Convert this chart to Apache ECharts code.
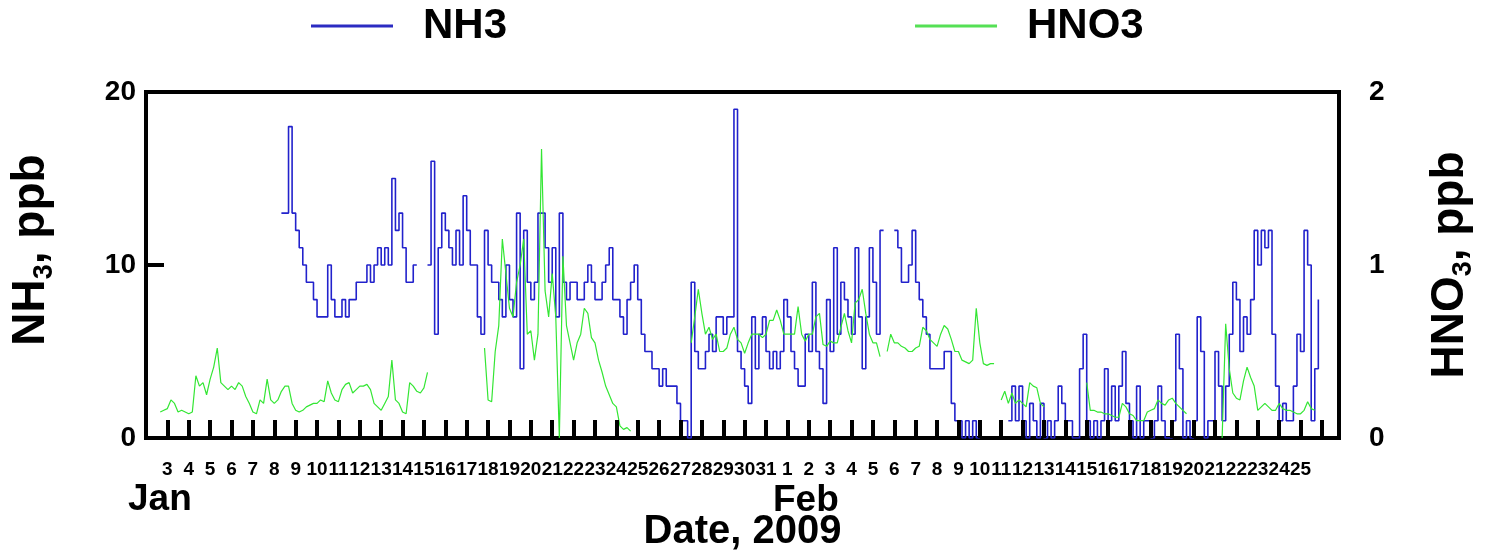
<!DOCTYPE html>
<html>
<head>
<meta charset="utf-8">
<script src="https://cdn.jsdelivr.net/npm/echarts@6/dist/echarts.min.js"></script>
<style>
html,body{margin:0;padding:0;background:#fff;}
#chart{width:1489px;height:557px;}
</style>
</head>
<body>
<div id="chart"></div>
<script>
// x = days after Jan 3 2009 (Jan 3 = 0); 6 readings per day (every 4 h)
const stepsPerDay = 6;
const tickLabels = ['3','4','5','6','7','8','9','10','11','12','13','14','15','16','17','18','19','20','21','22','23','24','25','26','27','28','29','30','31',
  '1','2','3','4','5','6','7','8','9','10','11','12','13','14','15','16','17','18','19','20','21','22','23','24','25'];
const monthLabels = ['Jan','Feb'];

// NH3 (ppb), first reading day = Jan 8
const nh3StartDay = 5;
const nh3 = [
  null,null,13,13,18,13,   // Jan 8
  12,11,10,9,9,8,          // Jan 9
  7,7,7,10,8,7,            // Jan 10
  7,8,7,8,8,9,             // Jan 11
  9,9,10,9,10,11,          // Jan 12
  10,11,10,15,12,13,       // Jan 13
  11,9,9,10,null,null,     // Jan 14
  null,10,16,6,11,13,      // Jan 15
  12,11,10,12,10,14,       // Jan 16
  12,10,10,7,6,12,         // Jan 17
  10,9,9,8,7,10,           // Jan 18
  8,7,13,4,12,9,           // Jan 19
  8,9,13,13,11,9,          // Jan 20
  11,7,13,9,8,9,           // Jan 21
  9,8,8,9,10,9,            // Jan 22
  8,8,9,10,11,8,           // Jan 23
  8,7,6,8,9,10,            // Jan 24
  8,6,5,5,4,4,             // Jan 25
  3,4,3,3,3,2,             // Jan 26
  1,1,0,9,5,4,             // Jan 27
  4,5,6,5,7,7,             // Jan 28
  6,7,7,19,5,4,            // Jan 29
  3,2,7,4,6,7,             // Jan 30
  5,4,5,4,5,8,             // Jan 31
  7,5,4,3,3,6,             // Feb 1
  5,9,5,4,2,8,             // Feb 2
  5,11,6,9,8,7,            // Feb 3
  6,11,7,4,7,11,           // Feb 4
  9,6,12,null,null,null,   // Feb 5
  12,11,9,9,10,12,         // Feb 6
  9,8,7,6,4,4,             // Feb 7
  4,4,5,5,2,1,             // Feb 8
  1,0,1,0,1,0,             // Feb 9
  null,null,null,null,null,null, // Feb 10
  null,null,1,3,1,3,       // Feb 11
  1,0,2,1,0,2,             // Feb 12
  0,1,0,1,3,2,             // Feb 13
  1,1,0,0,4,6,             // Feb 14
  1,0,1,0,1,4,             // Feb 15
  1,3,1,3,5,2,             // Feb 16
  1,0,3,0,1,1,             // Feb 17
  0,1,3,1,0,0,             // Feb 18
  1,6,4,0,1,0,             // Feb 19
  1,7,5,0,1,1,             // Feb 20
  5,3,1,3,6,9,             // Feb 21
  8,5,7,6,8,12,            // Feb 22
  10,12,11,12,6,3,         // Feb 23
  1,2,1,1,3,6,             // Feb 24
  5,12,10,1,4,8            // Feb 25
];

// HNO3 (ppb), first reading day = Jan 2
const hno3StartDay = -1;
const hno3 = [
  null,null,null,null,0.15,0.16,      // Jan 2
  0.17,0.22,0.20,0.15,0.16,0.15,      // Jan 3
  0.14,0.15,0.36,0.30,0.32,0.25,      // Jan 4
  0.34,0.41,0.52,0.32,0.30,0.28,      // Jan 5
  0.30,0.28,0.32,0.30,0.24,0.20,      // Jan 6
  0.15,0.14,0.22,0.20,0.34,0.22,      // Jan 7
  0.20,0.22,0.27,0.30,0.30,0.20,      // Jan 8
  0.16,0.15,0.16,0.18,0.19,0.20,      // Jan 9
  0.20,0.22,0.21,0.33,0.26,0.22,      // Jan 10
  0.21,0.28,0.31,0.32,0.26,0.28,      // Jan 11
  0.30,0.30,0.31,0.28,0.20,0.18,      // Jan 12
  0.16,0.20,0.24,0.45,0.22,0.20,      // Jan 13
  0.15,0.14,0.32,0.30,0.27,0.26,      // Jan 14
  0.29,0.38,null,null,null,null,      // Jan 15
  null,null,null,null,null,null,      // Jan 16
  null,null,null,null,null,0.52,      // Jan 17
  0.22,0.21,0.50,0.65,1.15,0.95,      // Jan 18
  0.75,0.70,0.90,1.00,1.15,0.60,      // Jan 19
  0.62,0.45,0.60,1.67,0.85,0.70,      // Jan 20
  0.95,0.70,0.00,1.05,0.65,0.55,      // Jan 21
  0.45,0.55,0.60,0.75,0.72,0.58,      // Jan 22
  0.55,0.45,0.38,0.30,0.25,0.20,      // Jan 23
  0.18,0.07,0.05,0.06,0.04,null,      // Jan 24
  null,null,null,null,null,null,      // Jan 25
  null,null,null,null,null,null,      // Jan 26
  null,null,null,0.55,0.70,0.86,      // Jan 27
  0.72,0.60,0.64,0.57,0.60,0.50,      // Jan 28
  0.50,0.52,0.60,0.64,0.57,0.55,      // Jan 29
  0.49,0.55,0.60,0.60,0.60,0.58,      // Jan 30
  0.60,0.68,0.68,0.74,0.68,0.60,      // Jan 31
  0.60,0.60,0.60,0.76,0.60,0.56,      // Feb 1
  0.60,0.60,0.70,0.72,0.54,0.53,      // Feb 2
  0.56,0.55,0.55,0.64,0.72,0.62,      // Feb 3
  0.55,0.78,0.80,0.86,0.72,0.60,      // Feb 4
  0.55,0.55,0.47,null,0.50,0.60,      // Feb 5
  0.55,0.55,0.53,0.52,0.50,0.50,      // Feb 6
  0.52,0.53,0.64,0.62,0.57,0.55,      // Feb 7
  0.53,0.60,0.65,0.63,0.57,0.50,      // Feb 8
  0.50,0.45,0.44,0.43,0.45,0.75,      // Feb 9
  0.55,0.43,0.42,0.43,0.43,null,      // Feb 10
  0.22,0.27,0.20,0.26,0.20,0.22,      // Feb 11
  0.20,0.18,0.32,0.30,0.29,0.20,      // Feb 12
  0.18,null,null,null,null,null,      // Feb 13
  null,null,null,null,null,null,      // Feb 14
  0.32,0.16,0.16,0.15,0.15,0.14,      // Feb 15
  0.14,0.13,0.12,0.12,0.20,0.18,      // Feb 16
  0.14,0.13,0.10,0.10,0.10,0.15,      // Feb 17
  0.16,0.17,0.22,0.20,0.19,0.22,      // Feb 18
  0.23,0.20,0.18,0.16,0.14,null,      // Feb 19
  null,null,null,null,null,null,      // Feb 20
  null,null,0.00,0.66,0.40,0.26,      // Feb 21
  0.23,0.22,0.33,0.41,0.35,0.30,      // Feb 22
  0.16,0.18,0.20,0.18,0.16,0.16,      // Feb 23
  0.20,0.17,0.16,0.16,0.15,0.14,      // Feb 24
  0.14,0.16,0.21,0.17,0.16,null       // Feb 25
];

const FONT = "'Liberation Sans', Arial, Helvetica, sans-serif";
const nh3Data = nh3.map((v, i) => [nh3StartDay + i / stepsPerDay, v]);
const hno3Data = hno3.map((v, i) => [hno3StartDay + i / stepsPerDay, v]);

const chart = echarts.init(document.getElementById('chart'));
function subRich(startPad) {
  return {
    s: {fontSize: 46, fontWeight: 'bold', fontFamily: FONT, color: '#000', verticalAlign: 'middle', lineHeight: 52, padding: [0, 0, 0, startPad]},
    a: {fontSize: 46, fontWeight: 'bold', fontFamily: FONT, color: '#000', verticalAlign: 'middle', lineHeight: 52},
    b: {fontSize: 27, fontWeight: 'bold', fontFamily: FONT, color: '#000', verticalAlign: 'top', padding: [27, 0, 0, 0]}
  };
}
chart.setOption({
  animation: false,
  backgroundColor: '#fff',
  textStyle: {fontFamily: FONT},
  legend: {
    left: 306, top: 0, icon: 'rect', itemWidth: 82, itemHeight: 3, itemGap: 408,
    textStyle: {fontSize: 42, fontWeight: 'bold', color: '#000', fontFamily: FONT, padding: [10, 0, 0, 25]},
    data: [{name: 'NH3', itemStyle: {color: '#2b2bc2'}}, {name: 'HNO3', itemStyle: {color: '#55e055'}}]
  },
  grid: {left: 137, top: 92, width: 1202, height: 346, show: true, borderColor: '#000', borderWidth: 4, backgroundColor: 'transparent'},
  xAxis: {
    type: 'value', min: -1, max: 54.8, interval: 1, z: 10,
    axisLine: {show: false, onZero: false}, splitLine: {show: false},
    axisTick: {inside: true, length: 18, lineStyle: {width: 4, color: '#000'}},
    axisLabel: {
      fontSize: 19, fontWeight: 'bold', color: '#000', margin: 22, fontFamily: FONT,
      formatter: v => (Number.isInteger(v) && v >= 0 && v < tickLabels.length) ? tickLabels[v] : ''
    },
    name: 'Date, 2009', nameLocation: 'middle', nameGap: 74,
    nameTextStyle: {fontSize: 40, fontWeight: 'bold', color: '#000', fontFamily: FONT}
  },
  yAxis: [
    {
      type: 'value', min: 0, max: 20, interval: 10, position: 'left', z: 10,
      axisLine: {show: false, onZero: false}, splitLine: {show: false},
      axisTick: {inside: true, length: 18, lineStyle: {width: 4, color: '#000'}},
      axisLabel: {fontSize: 28, fontWeight: 'bold', color: '#000', margin: 10, fontFamily: FONT},
      name: '{s|NH}{b|3}{a|, ppb}', nameLocation: 'middle', nameGap: 88, nameRotate: 90,
      nameTextStyle: {rich: subRich(30)}
    },
    {
      type: 'value', min: 0, max: 2, interval: 1, position: 'right',
      axisLine: {show: false, onZero: false}, splitLine: {show: false}, axisTick: {show: false},
      axisLabel: {fontSize: 28, fontWeight: 'bold', color: '#000', margin: 30, fontFamily: FONT},
      name: '{s|HNO}{b|3}{a|, ppb}', nameLocation: 'middle', nameGap: 84, nameRotate: 90,
      nameTextStyle: {rich: subRich(0)}
    }
  ],
  graphic: [
    {type: 'text', left: 128, top: 481, style: {text: monthLabels[0], font: 'bold 37px ' + FONT, fill: '#000'}},
    {type: 'text', left: 773, top: 482, style: {text: monthLabels[1], font: 'bold 37px ' + FONT, fill: '#000'}}
  ],
  series: [
    {name: 'NH3', type: 'line', yAxisIndex: 0, step: 'end', data: nh3Data, showSymbol: false, symbol: 'none',
     connectNulls: false, lineStyle: {color: '#2222cc', width: 1.6}, itemStyle: {color: '#2b2bc2'}},
    {name: 'HNO3', type: 'line', yAxisIndex: 1, data: hno3Data, showSymbol: false, symbol: 'none',
     connectNulls: false, lineStyle: {color: '#33e633', width: 1.2}, itemStyle: {color: '#55e055'}}
  ]
});
</script>
</body>
</html>
